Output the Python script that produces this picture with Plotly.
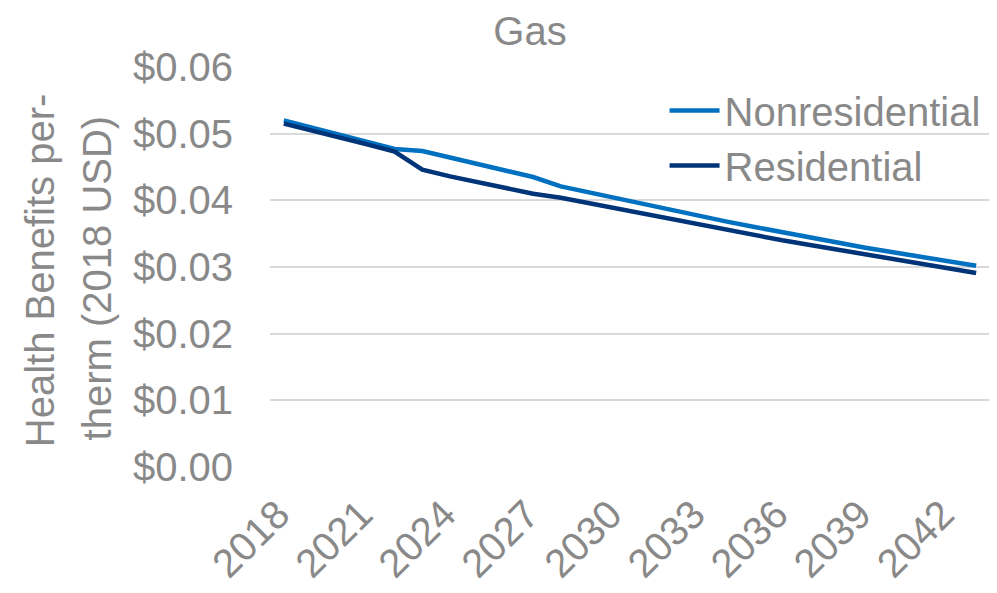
import plotly.graph_objects as go

years = list(range(2018, 2044))
nonresidential = [0.0520, 0.0509, 0.0498, 0.0488, 0.0477, 0.0474, 0.0464, 0.0454, 0.0445, 0.0435,
                  0.0421, 0.0412, 0.0403, 0.0394, 0.0385, 0.0376, 0.0368, 0.0360, 0.0352, 0.0344,
                  0.0337, 0.0329, 0.0322, 0.0315, 0.0309, 0.0302]
residential = [0.0515, 0.0505, 0.0494, 0.0484, 0.0473, 0.0446, 0.0436, 0.0427, 0.0418, 0.0410,
               0.0404, 0.0396, 0.0387, 0.0379, 0.0371, 0.0363, 0.0355, 0.0348, 0.0340, 0.0333,
               0.0326, 0.0319, 0.0312, 0.0305, 0.0298, 0.0291]
x_ticks = list(range(2018, 2044, 3))
y_ticks = [0.00, 0.01, 0.02, 0.03, 0.04, 0.05, 0.06]
y_title_lines = ["Health Benefits per-", "therm (2018 USD)"]

FONT = "Liberation Sans, Arial, sans-serif"
GRAY = "#898989"
FS = 40

fig = go.Figure()
fig.add_trace(go.Scatter(x=years, y=nonresidential, mode="lines", name="Nonresidential",
                         line=dict(color="#0070C0", width=4.5)))
fig.add_trace(go.Scatter(x=years, y=residential, mode="lines", name="Residential",
                         line=dict(color="#003478", width=4.5)))

# y-axis title as two rotated text lines
for text, xp, yp in zip(y_title_lines, [-0.3194, -0.2403], [0.492, 0.474]):
    fig.add_annotation(text=text, xref="paper", yref="paper", x=xp, y=yp,
                       xanchor="center", yanchor="middle", textangle=-90, showarrow=False,
                       font=dict(family=FONT, size=FS, color=GRAY))

fig.update_layout(
    width=997, height=593,
    margin=dict(l=262, r=15, t=59, b=134),
    paper_bgcolor="white", plot_bgcolor="white",
    font=dict(family=FONT, size=FS, color=GRAY),
    title=dict(text="Gas", x=0.5236, xanchor="center", y=0.962, yanchor="middle",
               font=dict(family=FONT, size=FS, color=GRAY)),
    showlegend=True,
    legend=dict(x=0.548, xanchor="left", y=0.9725, yanchor="top", bgcolor="rgba(0,0,0,0)",
                font=dict(family=FONT, size=FS, color=GRAY), itemwidth=50),
    xaxis=dict(range=[2017.5, 2043.5], tickmode="array", tickvals=x_ticks,
               ticktext=[str(v) for v in x_ticks], tickangle=-45, showgrid=False,
               zeroline=False, showline=False, ticks="", ticklabelstandoff=15,
               ticklabelshift=-6, tickfont=dict(size=FS, color=GRAY)),
    yaxis=dict(range=[0, 0.06], tickmode="array", tickvals=y_ticks,
               ticktext=["$%.2f" % v for v in y_ticks], showgrid=True, gridcolor="#D9D9D9",
               gridwidth=1.5, zeroline=False, showline=False, ticks="",
               ticklabelstandoff=36, tickfont=dict(size=FS, color=GRAY)),
)

fig.write_html("out.html")
